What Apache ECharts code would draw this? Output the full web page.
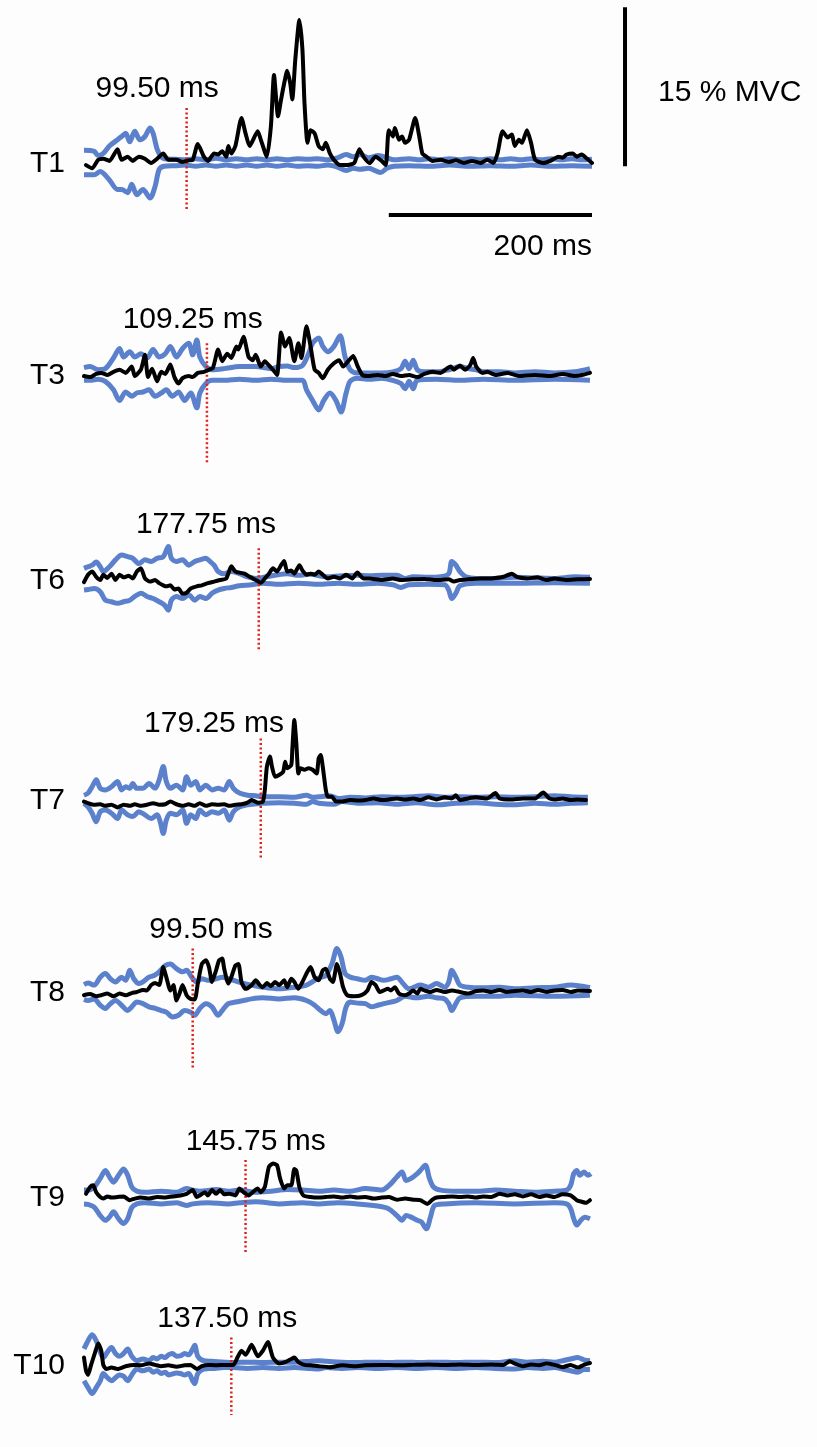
<!DOCTYPE html>
<html>
<head>
<meta charset="utf-8">
<script src="https://cdn.jsdelivr.net/npm/echarts@6/dist/echarts.min.js"></script>
<style>
html,body{margin:0;padding:0;background:#fdfdfd;}
#chart{width:817px;height:1447px;}
</style>
</head>
<body>
<div id="chart"></div>
<script>
// ---------------- DATA (x in ms, y in % MVC) ----------------
const panelNames = ['T1','T3','T6','T7','T8','T9','T10'];
const onsetLabels = ['99.50 ms','109.25 ms','177.75 ms','179.25 ms','99.50 ms','145.75 ms','137.50 ms'];
const onsetMs = [101, 121, 172, 174, 107, 159, 145];
const onsetTop = [5.2, 3.0, 3.0, 5.8, 4.1, 3.5, 3.0];
const onsetBottom = [-4.5, -8.3, -6.6, -5.5, -7.2, -5.2, -5.5];
const labelAnchor = [[72,7.0],[107,5.2],[120,5.2],[128,7.2],[125,5.85],[169,5.2],[141,5.1]];
const scaleMvc = 15;   // vertical scale bar, % MVC
const scaleMs = 200;   // horizontal scale bar, ms

const t1Emg = [[2,-0.2],[8,-0.5],[14,0.3],[19,0.4],[25,0.2],[33,1.3],[37,0.3],[43,0.6],[48,0.2],[54,0.6],[60,0.4],[66,0],[72,0.4],[78,0.9],[83,0.3],[91,0.3],[97,0.1],[103,0.25],[107,0.3],[112,1.8],[118,0.6],[122,0.2],[128,0.9],[132,0.8],[136,1.1],[140,0.6],[142,1.6],[145,0.9],[149,1.6],[155,4.25],[159,2.8],[163,1.6],[171,3.0],[174,2.2],[180,0.6],[184,3.5],[187,8.3],[191,4.4],[194,6.0],[197,7.5],[200,8.7],[203,7.5],[205,6.0],[208,9.8],[212,13.5],[215,10.7],[217,5.7],[220,1.9],[223,3.1],[227,2.8],[231,1.6],[235,1.3],[238,1.9],[242,0.9],[246,0.3],[252,-0.2],[258,-0.2],[266,0],[271,1.3],[275,0.6],[281,0],[287,0.6],[293,0.2],[297,-0.2],[300,3.1],[304,2.5],[306,3.3],[310,2.2],[313,2.5],[316,1.9],[320,2.2],[326,4.25],[330,2.5],[333,0.9],[337,0.6],[343,0.2],[351,0.3],[359,0.1],[366,0.25],[374,0],[382,0.2],[390,0],[397,0.3],[403,0],[407,0.9],[412,3.0],[417,2.4],[421,2.7],[424,1.6],[428,2.2],[431,1.9],[436,3.1],[440,1.9],[444,0.3],[452,0],[459,0.2],[467,0.6],[471,0.5],[475,0.8],[481,0.9],[485,0.6],[490,0.8],[494,0.5],[500,0]];
const t1Upper = [[0,1.2],[10,1.1],[14,0.7],[19,0.9],[25,1.6],[33,2.2],[37,2.5],[41,2.8],[45,2.0],[50,3.0],[55,2.2],[60,2.5],[65,3.3],[68,2.8],[72,1.3],[76,0.6],[79,0.4],[90,0.35],[100,0.3],[110,0.4],[120,0.3],[130,0.45],[140,0.3],[150,0.4],[160,0.3],[170,0.4],[180,0.3],[190,0.4],[200,0.3],[210,0.4],[220,0.35],[230,0.4],[240,0.3],[250,0.5],[258,0.8],[265,0.6],[272,0.8],[280,0.5],[290,0.7],[298,0.5],[305,0.3],[320,0.4],[330,0.3],[340,0.4],[350,0.3],[360,0.4],[370,0.3],[380,0.4],[390,0.3],[400,0.4],[410,0.3],[420,0.4],[430,0.3],[440,0.4],[450,0.3],[460,0.4],[470,0.3],[480,0.4],[490,0.3],[500,0.35]];
const t1Lower = [[0,-1.1],[10,-1.1],[16,-0.8],[25,-1.6],[33,-2.5],[37,-2.5],[43,-2.8],[47,-2.0],[52,-3.0],[58,-2.5],[65,-3.3],[70,-2.2],[74,-0.6],[79,-0.3],[90,-0.25],[100,-0.2],[110,-0.3],[120,-0.2],[130,-0.3],[140,-0.2],[150,-0.3],[160,-0.2],[170,-0.3],[180,-0.2],[190,-0.3],[200,-0.2],[210,-0.3],[220,-0.25],[230,-0.3],[240,-0.2],[250,-0.4],[258,-0.7],[265,-0.5],[272,-0.6],[280,-0.5],[292,-0.9],[298,-0.5],[305,-0.3],[320,-0.25],[340,-0.3],[360,-0.2],[380,-0.3],[400,-0.25],[420,-0.3],[440,-0.2],[460,-0.3],[480,-0.25],[500,-0.3]];

const t3Emg = [[0,-0.1],[6,-0.2],[12,0.1],[17,0.2],[23,0],[29,0.3],[35,0.5],[41,0.2],[47,0.8],[50,-0.1],[56,0.5],[60,1.9],[63,-0.2],[67,0.6],[72,-0.6],[76,0.3],[80,0.1],[85,1.0],[89,-0.2],[93,-0.8],[97,-0.3],[103,-0.1],[107,-0.2],[112,0.2],[118,0.3],[123,0.5],[127,0.7],[132,2.4],[136,1.3],[141,2.0],[145,1.6],[150,2.7],[152,2.4],[157,3.6],[162,1.7],[166,1.4],[169,1.9],[174,0.8],[178,1.3],[182,0.9],[186,0.5],[190,0],[194,4.0],[198,2.7],[202,3.5],[207,1.3],[211,3.0],[214,1.6],[219,4.6],[223,2.7],[227,0.5],[231,0.2],[235,-0.3],[240,0.5],[246,1.1],[251,1.4],[255,0.8],[260,1.3],[265,1.8],[269,0.9],[274,0],[279,-0.1],[289,0],[297,-0.1],[304,0.1],[312,-0.1],[320,0],[328,-0.2],[335,0.1],[343,0.3],[351,0.2],[357,0.6],[361,0.8],[364,0.5],[370,0.9],[375,0.5],[380,0.9],[383,1.6],[386,0.8],[392,0.2],[397,0.3],[405,0],[417,0.2],[428,-0.1],[444,0],[459,-0.1],[471,0.1],[483,-0.1],[490,0],[498,0.2]];
const t3Upper = [[0,0.7],[6,0.8],[14,0.5],[21,0.6],[29,1.6],[35,2.5],[39,1.7],[45,2.2],[50,1.7],[56,2.0],[62,1.6],[68,2.4],[74,1.7],[80,2.0],[85,2.7],[91,1.7],[97,2.5],[103,3.0],[107,1.9],[111,3.3],[114,1.7],[120,0.8],[126,0.5],[138,0.6],[153,0.8],[169,0.8],[184,0.6],[192,0.8],[200,0.85],[207,0.7],[215,0.9],[221,2.0],[225,3.0],[231,3.5],[235,2.7],[240,2.2],[246,2.7],[252,3.7],[257,1.7],[262,0.5],[269,0.2],[281,0.2],[293,0.2],[304,0.3],[312,0.6],[316,1.3],[320,0.6],[324,1.4],[328,0.5],[335,0.3],[347,0.3],[359,0.5],[370,0.8],[378,0.6],[386,0.5],[393,0.3],[409,0.3],[424,0.2],[444,0.3],[463,0.2],[483,0.3],[498,0.6]];
const t3Lower = [[0,-0.5],[6,-0.5],[14,-0.4],[21,-0.6],[29,-1.4],[35,-2.4],[41,-1.6],[47,-2.0],[52,-1.7],[58,-1.6],[64,-1.4],[70,-2.0],[76,-1.7],[81,-1.4],[87,-2.0],[93,-1.6],[99,-2.4],[105,-1.7],[111,-3.1],[114,-1.7],[120,-0.8],[126,-0.5],[138,-0.5],[153,-0.4],[169,-0.5],[184,-0.4],[200,-0.5],[215,-0.5],[219,-1.4],[225,-2.4],[231,-3.3],[236,-2.4],[242,-1.7],[248,-2.4],[253,-3.5],[258,-1.7],[262,-0.6],[269,-0.3],[281,-0.4],[293,-0.3],[304,-0.5],[312,-0.8],[316,-1.3],[320,-0.6],[324,-1.3],[328,-0.5],[347,-0.4],[370,-0.5],[393,-0.4],[424,-0.5],[463,-0.4],[498,-0.5]];

const t6Emg = [[0,-0.2],[4,0.5],[8,0.8],[12,0.3],[16,0],[19,0.5],[23,0.2],[27,0.6],[31,0],[35,0.5],[39,0.25],[44,0.4],[48,0.15],[52,0.8],[56,1.1],[60,0.15],[65,-0.15],[70,0],[74,-0.3],[78,-0.5],[81,-0.6],[85,-0.5],[89,-0.9],[93,-0.8],[97,-1.3],[101,-1.2],[105,-0.8],[111,-0.6],[116,-0.5],[122,-0.3],[128,-0.15],[134,0],[140,0.15],[145,1.3],[149,0.8],[153,0.7],[158,0.6],[163,0.3],[169,0],[174,-0.25],[178,0.15],[182,0.6],[186,1.1],[190,0.8],[194,1.4],[197,1.8],[200,0.8],[204,0.9],[207,0.6],[212,1.4],[215,0.9],[219,0.5],[223,0.6],[227,0.5],[231,0.8],[235,0.5],[240,0.15],[246,0.3],[252,0.15],[258,0.5],[264,0.15],[269,0.7],[275,0.15],[281,0.15],[293,0],[304,0.15],[312,0],[324,0.06],[335,0.1],[347,0],[359,0.06],[364,-0.15],[370,0],[378,0.06],[390,0.13],[401,0.15],[413,0.3],[421,0.6],[426,0.3],[436,0.15],[446,0.25],[455,0],[463,0.15],[475,0],[486,0.06],[498,0.1]];
const t6Upper = [[0,1.1],[4,1.25],[8,1.4],[12,1.7],[16,1.25],[19,0.8],[25,1.25],[31,1.9],[37,2.35],[43,2.2],[48,2.05],[54,1.55],[60,1.9],[66,1.75],[72,2.05],[78,2.2],[83,3.15],[86,2.05],[91,1.75],[97,1.9],[103,1.4],[109,1.75],[114,1.9],[120,2.05],[124,1.75],[128,1.4],[132,0.8],[138,0.6],[145,0.8],[153,0.6],[161,0.3],[169,0.15],[176,0.25],[188,0.45],[200,0.6],[211,0.45],[223,0.55],[238,0.3],[254,0.4],[269,0.45],[281,0.4],[293,0.45],[308,0.45],[316,0.15],[324,0.3],[339,0.25],[351,0.3],[359,0.6],[362,1.75],[366,1.4],[370,0.8],[376,0.3],[386,0.15],[405,0.15],[424,0.25],[444,0.2],[463,0.15],[483,0.3],[498,0.25]];
const t6Lower = [[0,-0.95],[4,-0.9],[10,-0.8],[16,-1.1],[21,-1.9],[27,-2.05],[33,-2.2],[39,-2.05],[45,-1.9],[50,-1.55],[56,-1.25],[62,-1.55],[68,-1.75],[74,-2.05],[79,-2.35],[83,-2.85],[86,-1.9],[91,-1.55],[97,-1.75],[103,-1.4],[109,-1.9],[114,-1.55],[120,-1.75],[126,-1.25],[132,-0.95],[138,-0.8],[145,-0.7],[153,-0.55],[165,-0.45],[176,-0.3],[192,-0.4],[211,-0.3],[231,-0.4],[250,-0.3],[269,-0.4],[289,-0.3],[304,-0.45],[312,-0.7],[320,-0.45],[339,-0.4],[355,-0.45],[359,-0.95],[362,-1.75],[366,-1.25],[370,-0.55],[386,-0.3],[424,-0.3],[463,-0.25],[498,-0.3]];

const t7Emg = [[0,-0.15],[4,-0.3],[10,-0.45],[16,-0.4],[21,-0.55],[27,-0.45],[33,-0.7],[39,-0.45],[45,-0.55],[50,-0.4],[56,-0.55],[62,-0.45],[68,-0.3],[74,-0.45],[80,-0.4],[85,-0.15],[91,-0.4],[97,-0.55],[103,-0.4],[109,-0.55],[114,-0.3],[120,-0.55],[126,-0.4],[132,-0.45],[138,-0.4],[143,-0.55],[149,-0.45],[155,-0.4],[161,-0.25],[165,0],[171,-0.25],[176,-0.15],[178,0.95],[180,3.15],[183,4.1],[185,3.15],[188,2.2],[192,2.35],[196,2.65],[198,3.6],[200,3.0],[204,3.3],[205,4.7],[207,7.55],[209,5.35],[211,2.5],[213,3.0],[217,2.85],[221,3.0],[225,2.85],[229,2.5],[231,3.95],[233,4.25],[235,3.15],[238,0.95],[240,0.3],[244,0.3],[248,-0.15],[254,-0.15],[262,0],[270,-0.05],[277,0],[285,0.15],[293,0],[300,0.05],[308,0.15],[316,0.05],[324,0.15],[331,0],[339,0.25],[347,0.05],[355,0.25],[362,0.15],[366,0.45],[370,0],[378,0.15],[386,0.25],[397,0.15],[405,0.65],[409,0.15],[420,0.05],[432,0.15],[444,0.15],[452,0.7],[458,0.15],[463,0.05],[471,0.15],[479,0],[486,0.05],[494,0]];
const t7Upper = [[0,0.45],[4,0.65],[8,1.25],[12,1.9],[16,1.1],[21,0.95],[27,1.25],[33,1.75],[37,0.95],[41,1.25],[45,1.1],[48,1.55],[52,1.1],[58,1.1],[64,1.55],[70,1.1],[74,1.9],[78,3.15],[81,1.75],[85,1.1],[91,1.4],[97,0.95],[101,2.2],[105,1.4],[110,1.75],[114,0.95],[120,1.4],[126,0.95],[132,1.1],[138,0.95],[143,1.75],[147,1.1],[153,0.65],[161,0.45],[169,0.4],[176,0.3],[192,0.3],[207,0.25],[219,0.45],[225,0.25],[231,0.3],[242,0.4],[250,0.15],[262,0.25],[277,0.2],[293,0.3],[308,0.25],[324,0.3],[339,0.4],[355,0.25],[370,0.3],[386,0.25],[405,0.3],[424,0.25],[444,0.3],[463,0.4],[479,0.3],[496,0.25]];
const t7Lower = [[0,-0.3],[4,-0.65],[8,-1.25],[12,-2.05],[16,-1.1],[21,-0.95],[27,-1.25],[33,-1.75],[37,-0.95],[43,-1.4],[48,-1.55],[54,-1.1],[60,-1.4],[66,-1.75],[72,-1.4],[75,-2.05],[78,-3.15],[81,-1.9],[85,-1.25],[91,-1.4],[97,-0.95],[101,-2.2],[105,-1.4],[110,-1.75],[114,-0.95],[120,-1.4],[126,-1.1],[132,-1.25],[138,-0.95],[143,-1.9],[147,-1.1],[153,-0.65],[161,-0.45],[176,-0.3],[192,-0.25],[207,-0.3],[219,-0.4],[225,-0.15],[231,-0.3],[246,-0.4],[254,-0.15],[269,-0.3],[289,-0.25],[308,-0.4],[327,-0.25],[347,-0.45],[366,-0.3],[386,-0.25],[405,-0.4],[424,-0.45],[444,-0.3],[463,-0.4],[479,-0.3],[496,-0.25]];

const t8Emg = [[0,-0.3],[6,-0.2],[12,-0.4],[17,-0.3],[23,-0.15],[29,-0.4],[35,-0.15],[41,-0.3],[47,-0.1],[52,0],[58,0.2],[62,0.15],[66,0.65],[70,0.85],[74,0.65],[78,2.35],[81,1.4],[85,0.15],[88,0.65],[91,-0.8],[94,-0.15],[97,0.65],[101,-0.3],[105,-0.65],[109,-0.7],[112,0.8],[116,2.65],[120,3.0],[123,2.35],[126,0.95],[130,2.05],[133,3.0],[136,3.15],[138,2.2],[142,0.8],[145,1.4],[149,2.5],[152,2.65],[155,0.95],[159,0.3],[165,0.65],[169,1.1],[173,0.65],[176,0.45],[180,0.85],[184,0.55],[188,0.95],[192,0.65],[197,1.1],[200,0.45],[204,1.25],[207,0.95],[211,0.3],[215,0.95],[219,1.75],[223,2.35],[227,1.4],[231,1.1],[235,2.05],[238,2.2],[242,1.25],[245,0.95],[249,2.65],[252,1.75],[255,0.45],[259,-0.3],[266,-0.4],[273,-0.3],[279,0.15],[283,0.95],[287,0.65],[291,0],[295,0.15],[299,0.3],[302,0.15],[306,0.45],[310,-0.15],[316,-0.3],[320,-0.15],[324,0.15],[328,-0.15],[331,0.3],[335,0.15],[341,0],[347,0.2],[355,0],[362,0.15],[370,0],[378,-0.15],[386,0.1],[393,0.15],[401,0],[409,0.2],[416,0],[424,0.1],[432,0.15],[440,0],[447,0.2],[455,0],[463,0.15],[471,0.2],[479,0],[486,0.15],[498,0.1]];
const t8Upper = [[0,0.7],[4,0.85],[10,0.65],[16,1.4],[21,1.75],[26,1.25],[31,0.95],[37,1.4],[41,1.1],[45,2.05],[49,1.25],[54,0.8],[58,0.95],[64,1.4],[69,1.55],[74,1.9],[80,2.5],[85,2.65],[91,2.2],[97,1.9],[101,2.05],[106,1.4],[111,0.95],[116,1.25],[122,1.1],[130,1.25],[136,1.4],[142,1.25],[149,1.05],[157,0.8],[165,0.65],[176,0.45],[192,0.3],[207,0.45],[219,0.65],[227,1.1],[233,1.4],[238,1.55],[244,2.65],[249,4.1],[253,3.3],[257,1.75],[262,1.4],[269,1.25],[277,1.1],[283,1.4],[289,1.25],[295,1.1],[302,1.25],[308,1.4],[314,0.8],[320,0.3],[331,0.65],[339,0.45],[347,0.8],[355,0.45],[359,0.95],[362,2.05],[366,1.4],[370,0.65],[378,0.45],[393,0.4],[409,0.45],[424,0.3],[444,0.4],[463,0.45],[479,0.65],[498,0.4]];
const t8Lower = [[0,-0.7],[4,-0.8],[10,-0.65],[16,-1.25],[21,-1.55],[26,-1.1],[31,-0.8],[37,-1.25],[43,-1.75],[47,-1.4],[52,-0.95],[58,-1.1],[64,-1.4],[70,-1.55],[76,-1.75],[81,-1.9],[87,-2.35],[93,-2.2],[99,-1.75],[105,-1.9],[109,-2.2],[114,-1.55],[120,-1.1],[126,-1.4],[132,-2.2],[136,-1.75],[142,-1.1],[149,-0.95],[157,-0.8],[165,-0.65],[176,-0.55],[192,-0.65],[207,-0.55],[219,-0.8],[227,-1.25],[233,-1.75],[238,-2.05],[242,-1.75],[246,-2.65],[250,-3.75],[254,-3.0],[258,-1.4],[262,-0.95],[269,-1.05],[277,-1.1],[283,-1.4],[289,-1.25],[295,-1.1],[302,-0.95],[308,-0.8],[316,-0.4],[327,-0.55],[339,-0.4],[347,-0.55],[355,-0.65],[359,-1.1],[362,-1.75],[366,-1.1],[370,-0.55],[386,-0.4],[405,-0.4],[424,-0.3],[463,-0.4],[498,-0.3]];

const t9Emg = [[2,0.3],[6,0.95],[9,1.1],[12,0.45],[16,0],[19,-0.15],[23,0.05],[27,-0.05],[33,0],[39,0.05],[45,-0.3],[50,-0.15],[56,-0.05],[64,-0.15],[72,0],[80,-0.05],[87,0.05],[95,0.15],[101,0.3],[107,0.65],[111,0],[114,0.15],[119,0.45],[122,0.15],[126,0.65],[130,0.3],[134,0.65],[138,0.25],[143,0.3],[149,0.15],[153,0.8],[157,0.45],[162,0.15],[166,0.45],[171,0.8],[174,0.45],[178,0.95],[182,2.85],[186,3.15],[190,3.0],[193,1.75],[197,0.8],[200,1.1],[204,1.1],[207,2.65],[209,2.5],[212,0.95],[216,0.15],[223,0],[231,-0.05],[238,0],[246,0.05],[254,-0.05],[262,0.05],[269,-0.05],[277,0],[285,-0.15],[293,-0.05],[300,0],[308,-0.25],[316,-0.15],[324,-0.25],[331,-0.3],[338,-0.65],[343,-0.25],[347,-0.05],[355,0],[362,0.05],[370,0],[378,0.05],[386,-0.05],[393,0.05],[401,0],[409,0.3],[417,0.15],[424,0.25],[432,0.05],[440,0.25],[448,0],[455,0.15],[463,0],[471,0.25],[479,0.15],[485,-0.3],[490,-0.45],[494,-0.55],[498,-0.3]];
const t9Upper = [[0,0.65],[4,0.65],[10,0.95],[16,1.75],[21,2.5],[25,1.9],[29,1.4],[34,2.05],[39,2.65],[43,2.05],[47,0.95],[52,0.55],[60,0.45],[76,0.55],[91,0.45],[101,0.8],[107,0.65],[114,0.55],[130,0.7],[142,0.55],[153,0.65],[169,0.45],[184,0.55],[200,0.7],[215,0.65],[231,0.55],[246,0.65],[262,0.55],[277,0.8],[293,0.65],[302,1.25],[308,1.9],[313,2.35],[317,1.55],[322,1.75],[328,2.2],[331,2.5],[336,3.0],[340,1.75],[344,0.95],[351,0.65],[366,0.55],[386,0.55],[405,0.65],[424,0.55],[444,0.45],[463,0.55],[475,0.65],[479,1.1],[482,2.2],[485,2.5],[488,2.05],[492,2.35],[496,2.05],[499,2.2]];
const t9Lower = [[0,-0.65],[4,-0.7],[10,-0.95],[16,-1.75],[21,-2.2],[25,-1.9],[29,-1.4],[34,-2.05],[39,-2.5],[43,-2.05],[47,-1.0],[52,-0.65],[60,-0.55],[76,-0.65],[91,-0.55],[101,-0.8],[107,-0.65],[122,-0.55],[142,-0.65],[153,-0.55],[169,-0.45],[192,-0.65],[215,-0.55],[231,-0.65],[250,-0.55],[269,-0.65],[285,-0.8],[297,-1.0],[302,-1.25],[308,-1.75],[313,-2.2],[317,-1.75],[322,-1.9],[328,-2.2],[332,-2.35],[337,-3.0],[341,-1.9],[345,-0.8],[355,-0.65],[386,-0.55],[424,-0.65],[463,-0.55],[475,-0.65],[479,-1.1],[482,-2.05],[485,-2.65],[489,-2.2],[493,-1.9],[498,-2.05]];

const t10Emg = [[0,0.8],[2,-0.65],[4,-1.1],[7,0],[11,1.4],[14,2.35],[17,1.55],[19,0],[22,-0.45],[27,-0.3],[33,-0.45],[41,-0.15],[49,0],[56,-0.05],[64,0.15],[70,0],[76,-0.15],[83,-0.05],[91,-0.2],[99,-0.05],[105,0],[111,-0.45],[116,-0.15],[122,0],[130,-0.05],[138,0],[147,0],[151,0.8],[155,1.55],[159,1.1],[165,2.2],[171,0.95],[176,1.55],[181,2.5],[186,0.8],[192,0.15],[198,0.3],[204,0.65],[207,0.8],[211,0.3],[217,0],[223,-0.05],[231,-0.15],[242,-0.25],[254,-0.05],[266,-0.15],[277,-0.05],[293,0],[308,-0.05],[324,0],[339,0.05],[355,0],[370,0.05],[386,0],[401,0.05],[413,0],[419,0.4],[424,0.15],[432,-0.15],[440,0.05],[448,-0.05],[455,0.15],[463,0],[471,-0.25],[479,0],[486,-0.3],[492,0],[498,0.2]];
const t10Upper = [[0,1.75],[4,2.65],[8,3.3],[12,2.65],[16,1.4],[19,0.8],[23,1.4],[27,1.9],[31,1.25],[35,0.95],[39,1.25],[43,1.75],[47,0.95],[52,0.45],[58,0.65],[64,0.45],[68,0.8],[72,0.65],[76,0.95],[80,0.8],[83,1.1],[87,1.25],[91,0.95],[95,1.0],[99,1.25],[103,1.1],[107,1.75],[109,2.15],[112,0.95],[118,0.45],[126,0.4],[138,0.3],[147,0.25],[161,0.3],[176,0.25],[192,0.3],[207,0.3],[223,0.4],[231,0.45],[238,0.4],[254,0.3],[269,0.25],[285,0.3],[300,0.25],[316,0.3],[331,0.25],[347,0.3],[366,0.25],[386,0.3],[405,0.25],[424,0.45],[436,0.3],[452,0.4],[463,0.3],[471,0.45],[479,0.65],[486,0.8],[492,0.55],[498,0.45]];
const t10Lower = [[0,-1.75],[4,-2.5],[8,-3.15],[12,-2.5],[16,-1.75],[19,-0.95],[23,-1.4],[27,-1.75],[31,-1.4],[35,-1.1],[39,-1.25],[43,-1.75],[47,-1.1],[52,-0.45],[58,-0.65],[64,-0.45],[68,-0.8],[72,-0.65],[76,-0.95],[80,-0.8],[83,-1.1],[87,-1.0],[91,-0.9],[95,-0.95],[99,-1.1],[103,-0.95],[107,-1.75],[109,-2.05],[112,-0.95],[118,-0.45],[126,-0.4],[138,-0.3],[147,-0.3],[161,-0.4],[176,-0.3],[192,-0.4],[207,-0.3],[223,-0.4],[231,-0.45],[238,-0.3],[254,-0.4],[269,-0.3],[289,-0.4],[308,-0.3],[327,-0.4],[347,-0.3],[366,-0.4],[386,-0.3],[405,-0.4],[424,-0.45],[436,-0.3],[452,-0.4],[463,-0.3],[471,-0.45],[479,-0.65],[486,-0.8],[492,-0.5],[498,-0.5]];

const emgSets = [t1Emg, t3Emg, t6Emg, t7Emg, t8Emg, t9Emg, t10Emg];
const upperSets = [t1Upper, t3Upper, t6Upper, t7Upper, t8Upper, t9Upper, t10Upper];
const lowerSets = [t1Lower, t3Lower, t6Lower, t7Lower, t8Lower, t9Lower, t10Lower];

// ---------------- LAYOUT ----------------
const FONT = '"Liberation Sans", Arial, Helvetica, sans-serif';
const baselinePx = [163, 375, 580, 800, 992, 1197, 1387];
const gridLeft = 84, pxPerMs = 1.016;
const pxPerPct = 10.6;
const yMin = -9, yMax = 15;
const BLUE = '#5b80cc', RED = '#e0201c';

const grids = [], xAxes = [], yAxes = [], series = [];
baselinePx.forEach((b, i) => {
  grids.push({ left: gridLeft, width: 500 * pxPerMs, top: b - yMax * pxPerPct, height: (yMax - yMin) * pxPerPct, containLabel: false });
  xAxes.push({ gridIndex: i, type: 'value', min: 0, max: 500, show: false });
  yAxes.push({ gridIndex: i, type: 'value', min: yMin, max: yMax, show: false });
  const common = { type: 'line', xAxisIndex: i, yAxisIndex: i, symbol: 'none', silent: true, animation: false, clip: false };
  series.push(Object.assign({}, common, { data: upperSets[i], z: 2, smooth: 0.3, lineStyle: { color: BLUE, width: 5, join: 'round' } }));
  series.push(Object.assign({}, common, { data: lowerSets[i], z: 2, smooth: 0.3, lineStyle: { color: BLUE, width: 5, join: 'round' } }));
  series.push(Object.assign({}, common, { data: [[onsetMs[i], onsetTop[i]], [onsetMs[i], onsetBottom[i]]], z: 3, lineStyle: { color: RED, width: 2.5, type: [2, 2.5] } }));
  series.push(Object.assign({}, common, { data: emgSets[i], z: 4, smooth: 0.2, lineStyle: { color: '#000', width: 4, join: 'round', cap: 'round' } }));
});

// extra grid (same vertical scale as T1) holding the scale bars
const sbIdx = baselinePx.length;
grids.push({ left: gridLeft, width: 600 * pxPerMs, top: baselinePx[0] - yMax * pxPerPct, height: (yMax - yMin) * pxPerPct, containLabel: false });
xAxes.push({ gridIndex: sbIdx, type: 'value', min: 0, max: 600, show: false });
yAxes.push({ gridIndex: sbIdx, type: 'value', min: yMin, max: yMax, show: false });
series.push({ type: 'line', xAxisIndex: sbIdx, yAxisIndex: sbIdx, symbol: 'none', silent: true, animation: false, z: 5,
  data: [[532.5, -0.3], [532.5, -0.3 + scaleMvc]], lineStyle: { color: '#000', width: 4, cap: 'butt' } });
series.push({ type: 'line', xAxisIndex: sbIdx, yAxisIndex: sbIdx, symbol: 'none', silent: true, animation: false, z: 5,
  data: [[500 - scaleMs, -4.9], [500, -4.9]], lineStyle: { color: '#000', width: 4, cap: 'butt' } });

const chart = echarts.init(document.getElementById('chart'), null, { renderer: 'canvas' });
chart.setOption({
  backgroundColor: '#fdfdfd',
  animation: false,
  grid: grids, xAxis: xAxes, yAxis: yAxes, series: series
});

// texts
const graphics = [];
baselinePx.forEach((b, i) => {
  const p = chart.convertToPixel({ gridIndex: i }, labelAnchor[i]);
  graphics.push({ type: 'text', x: p[0], y: p[1], z: 10,
    style: { text: onsetLabels[i], font: '30px ' + FONT, fill: '#000', textAlign: 'center', textVerticalAlign: 'middle' } });
  const q = chart.convertToPixel({ gridIndex: i }, [0, 0]);
  graphics.push({ type: 'text', x: q[0] - 19, y: q[1] + 1, z: 10,
    style: { text: panelNames[i], font: '30px ' + FONT, fill: '#000', textAlign: 'right', textVerticalAlign: 'middle' } });
});
const mv = chart.convertToPixel({ gridIndex: sbIdx }, [532.5, -0.3 + scaleMvc * 0.5]);
graphics.push({ type: 'text', x: mv[0] + 33, y: mv[1] + 6, z: 10,
  style: { text: scaleMvc + ' % MVC', font: '30px ' + FONT, fill: '#000', textAlign: 'left', textVerticalAlign: 'middle' } });
const hb = chart.convertToPixel({ gridIndex: sbIdx }, [500, -4.9]);
graphics.push({ type: 'text', x: hb[0], y: hb[1] + 32, z: 10,
  style: { text: scaleMs + ' ms', font: '30px ' + FONT, fill: '#000', textAlign: 'right', textVerticalAlign: 'middle' } });
chart.setOption({ graphic: graphics });
</script>
</body>
</html>
